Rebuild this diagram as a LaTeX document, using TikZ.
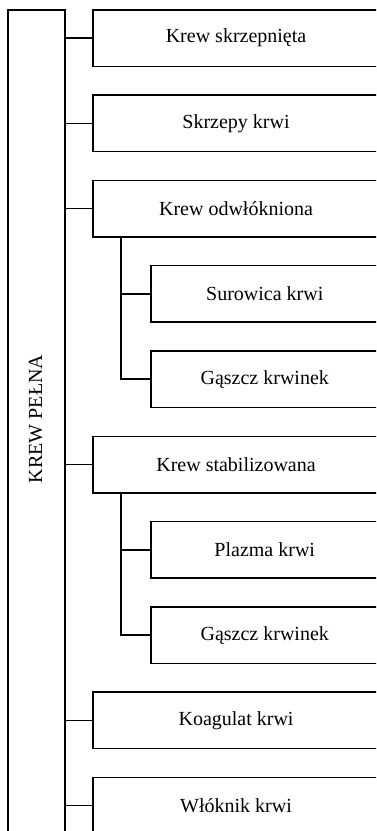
\documentclass[tikz,border=0pt]{standalone}
\usepackage{fontspec}
\setmainfont{Liberation Serif}
\begin{document}
\begin{tikzpicture}[x=1pt,y=1pt,
  every node/.style={font=\fontsize{20}{24}\selectfont},
  mainbox/.style={draw,line width=1.5pt,rectangle,anchor=north west,minimum width=286pt,minimum height=56.5pt,inner sep=0pt},
  subbox/.style={draw,line width=1.5pt,rectangle,anchor=north west,minimum width=228pt,minimum height=56.5pt,inner sep=0pt},
  link/.style={line width=1.5pt}]
\useasboundingbox (0,0) rectangle (376,-831);
\clip (0,0) rectangle (376,-831);
\node[draw,line width=1.5pt,rectangle,anchor=north west,minimum width=56.7pt,minimum height=824pt,inner sep=0pt] (root) at (7.3,-9) {};
\node[rotate=90] (rootlabel) at (35.6,-419) {KREW PEŁNA};
\node[mainbox] (b0) at (92.3,-9) {Krew skrzepnięta};
\node[mainbox] (b1) at (92.3,-94.3) {Skrzepy krwi};
\node[mainbox] (b2) at (92.3,-179.6) {Krew odwłókniona};
\node[subbox] (b3) at (150,-264.9) {Surowica krwi};
\node[subbox] (b4) at (150,-350.2) {Gąszcz krwinek};
\node[mainbox] (b5) at (92.3,-435.5) {Krew stabilizowana};
\node[subbox] (b6) at (150,-520.8) {Plazma krwi};
\node[subbox] (b7) at (150,-606.1) {Gąszcz krwinek};
\node[mainbox] (b8) at (92.3,-691.4) {Koagulat krwi};
\node[mainbox] (b9) at (92.3,-776.7) {Włóknik krwi};
\foreach \b in {b0,b1,b2,b5,b8,b9}{
  \draw[link] (\b.west -| root.east) -- (\b.west);
}
\coordinate (s1) at ([xshift=28.7pt]b2.south west);
\draw[link] (s1) |- (b4.west);
\draw[link] (s1 |- b3.west) -- (b3.west);
\coordinate (s2) at ([xshift=28.7pt]b5.south west);
\draw[link] (s2) |- (b7.west);
\draw[link] (s2 |- b6.west) -- (b6.west);
\end{tikzpicture}
\end{document}
